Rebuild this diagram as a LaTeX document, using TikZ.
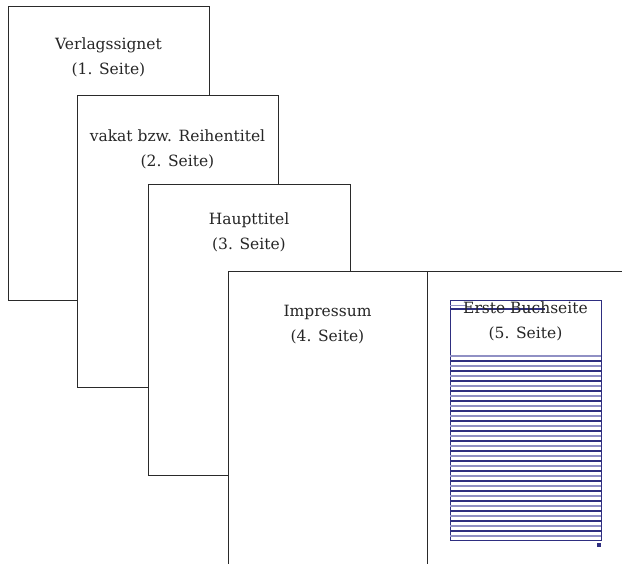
\documentclass[tikz,border=0pt]{standalone}
\usepackage{fontspec}
\setmainfont{DejaVu Serif}

\definecolor{rahmen}{HTML}{2A2A2A}
\definecolor{satzblau}{HTML}{2E2E80}
\definecolor{rasterhell}{HTML}{9090C4}

\tikzset{
  seite/.style={rectangle, draw=rahmen, line width=1.4pt, fill=white, anchor=north west, inner sep=0pt},
  titel/.style={align=center, anchor=base, inner sep=0pt, text=black!85, font=\fontsize{15.5}{25}\selectfont},
  zeile/.style={line width=1.1pt},
}

\begin{document}
\begin{tikzpicture}[x=1pt, y=-1pt]
  \useasboundingbox (0,0) rectangle (622,564);
  \clip (0,0) rectangle (622,564);

  % die Seiten
  \node[seite, minimum width=201pt, minimum height=294pt] (s1) at (8,6) {};
  \node[seite, minimum width=201pt, minimum height=292pt] (s2) at (77,95) {};
  \node[seite, minimum width=202pt, minimum height=291pt] (s3) at (148,184) {};
  \node[seite, minimum width=199pt, minimum height=320pt] (s4) at (228,271) {};
  \node[seite, minimum width=230pt, minimum height=320pt] (s5) at (427,271) {};

  % Satzspiegel mit Raster
  \node[rectangle, draw=satzblau, line width=0.8pt, anchor=north west, inner sep=0pt,
        minimum width=151pt, minimum height=240pt] (satz) at (450,300) {};
  \draw[zeile, rasterhell] (satz.north west) ++(0,5.5) -- ++(17,0);
  \draw[zeile, satzblau] (satz.north west) ++(0,9) -- ++(95,0);
  \foreach \i in {0,...,36} {
    \pgfmathsetmacro{\farbe}{isodd(\i) ? "satzblau" : "rasterhell"}
    \draw[zeile, draw=\farbe] (satz.north west) ++(0,56+5*\i) -- ++(151,0);
  }
  \node[rectangle, fill=satzblau, minimum size=4pt, inner sep=0pt] (marke) at (599,545) {};

  % Beschriftungen (Grundlinie der zweiten Zeile)
  \node[titel] (t1) at (108.5,75) {Verlagssignet\\(1. Seite)};
  \node[titel] (t2) at (177.5,167) {vakat bzw. Reihentitel\\(2. Seite)};
  \node[titel] (t3) at (249,250) {Haupttitel\\(3. Seite)};
  \node[titel] (t4) at (327.5,342) {Impressum\\(4. Seite)};
  \node[titel] (t5) at (525.5,339) {Erste Buchseite\\(5. Seite)};
\end{tikzpicture}
\end{document}
